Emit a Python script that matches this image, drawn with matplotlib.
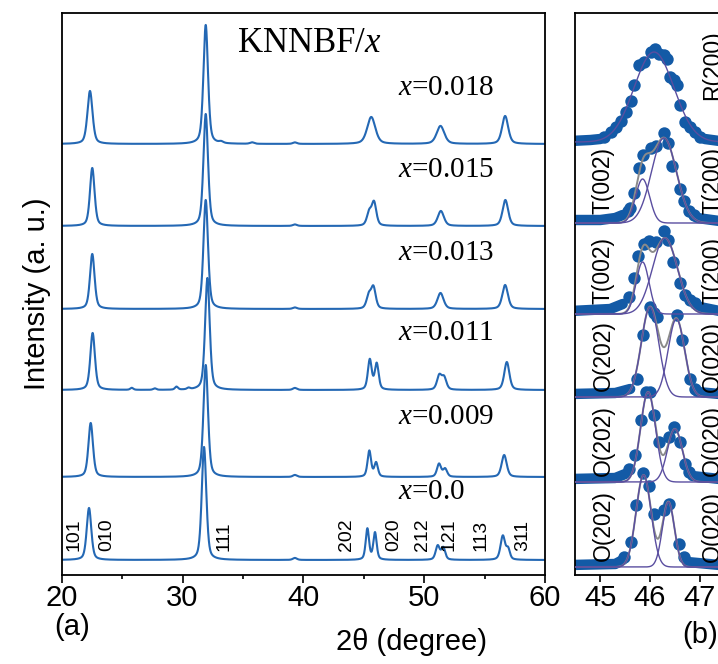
import numpy as np
import matplotlib
matplotlib.use('Agg')
import matplotlib.pyplot as plt
from matplotlib.ticker import MultipleLocator

plt.rcParams['font.family'] = ['Liberation Sans', 'DejaVu Sans']
plt.rcParams['mathtext.fontset'] = 'custom'
plt.rcParams['mathtext.it'] = 'Liberation Serif:italic'
plt.rcParams['mathtext.rm'] = 'Liberation Serif'

# ---- panel (a): XRD patterns, peaks --------------------------------------
# (2theta, height, fwhm); heights in pixel-like units of the stacked plot
labels_a = ['0.018', '0.015', '0.013', '0.011', '0.009', '0.0']
offsets_a = [431, 349, 266, 185, 98, 15]
label_y_a = [487, 405, 322, 242, 158, 83]

peaks_0018 = [(22.34, 53, 0.50), (31.92, 119, 0.45), (33.2, 1.5, 0.4), (35.75, 1.5, 0.4),
              (39.3, 1.5, 0.4), (45.62, 27, 0.80), (51.35, 18, 0.75), (56.70, 28, 0.60)]
peaks_0015 = [(22.53, 58, 0.45), (31.92, 112, 0.45), (39.3, 1.5, 0.4),
              (45.45, 13, 0.45), (45.85, 23, 0.45), (51.38, 15, 0.60), (56.72, 26, 0.55)]
peaks_0013 = [(22.53, 55, 0.45), (31.92, 109, 0.45), (39.3, 1.5, 0.4),
              (45.42, 13, 0.45), (45.80, 21, 0.45), (51.35, 16, 0.60), (56.70, 24, 0.55)]
peaks_0011 = [(22.56, 57, 0.45), (25.8, 2, 0.3), (27.7, 1.5, 0.3), (29.5, 3, 0.3),
              (30.5, 1.5, 0.3), (32.06, 112, 0.45), (39.3, 2, 0.4),
              (45.50, 30, 0.38), (46.07, 26, 0.38), (51.25, 14, 0.45), (51.65, 12, 0.45),
              (56.84, 28, 0.50)]
peaks_0009 = [(22.40, 54, 0.45), (31.92, 112, 0.45), (39.3, 2, 0.4),
              (45.46, 26, 0.35), (46.02, 14, 0.35), (51.23, 13, 0.40), (51.73, 8, 0.40),
              (56.62, 22, 0.50)]
peaks_00 = [(22.26, 52, 0.45), (31.78, 113, 0.45), (39.3, 2, 0.4),
            (45.30, 31, 0.33), (45.93, 27, 0.33), (51.12, 14, 0.40), (51.58, 12, 0.38),
            (56.51, 24, 0.45), (56.95, 10, 0.35)]
peak_sets = [peaks_0018, peaks_0015, peaks_0013, peaks_0011, peaks_0009, peaks_00]

hkl_labels = ['101', '010', '111', '202', '020', '212', '121', '113', '311']
hkl_pos = [21.0, 23.75, 33.44, 43.6, 47.5, 49.87, 52.07, 54.7, 58.15]

# ---- panel (b): 45-47 deg region, fitted components + data ---------------
offsets_b = [433, 352, 261, 178, 93, 8]
label_y_b = [510, 395, 304, 219, 134, 49]
left_labels_b = ['', 'T(002)', 'T(002)', 'O(202)', 'O(202)', 'O(202)']
right_labels_b = ['R(200)', 'T(200)', 'T(200)', 'O(020)', 'O(020)', 'O(020)']

# fitted gaussians (centre, height, sigma)
fit_r1 = [(46.08, 90, 0.40)]
fit_r2 = [(45.85, 44, 0.14), (46.28, 85, 0.25)]
fit_r3 = [(45.85, 52, 0.13), (46.30, 76, 0.25)]
fit_r4 = [(46.00, 90, 0.175), (46.53, 78, 0.165)]
fit_r5 = [(45.96, 90, 0.15), (46.50, 53, 0.15)]
fit_r6 = [(45.87, 92, 0.15), (46.37, 65, 0.12)]
fits = [fit_r1, fit_r2, fit_r3, fit_r4, fit_r5, fit_r6]

# measured points on the peaks
dx_r1 = [45.08, 45.21, 45.31, 45.41, 45.51, 45.61, 45.68, 45.78, 45.88, 46.01, 46.09,
         46.18, 46.28, 46.35, 46.41, 46.48, 46.55, 46.61, 46.71, 46.81, 46.91, 47.01]
dy_r1 = [5, 10, 15, 21, 30, 41, 57, 77, 80, 90, 93, 88, 87, 83, 65, 62, 57, 37, 20, 15, 10, 5]
dx_r2 = [45.55, 45.60, 45.68, 45.78, 45.86, 46.01, 46.11, 46.28, 46.36, 46.44,
         46.61, 46.68, 46.78, 46.88]
dy_r2 = [12, 15, 30, 55, 68, 75, 77, 90, 80, 57, 34, 22, 12, 8]
dx_r3 = [45.58, 45.68, 45.76, 45.87, 45.98, 46.11, 46.28, 46.37, 46.46, 46.60,
         46.71, 46.81, 46.91]
dy_r3 = [17, 36, 58, 70, 73, 72, 83, 74, 52, 31, 19, 14, 11]
dx_r4 = [45.73, 45.85, 46.00, 46.07, 46.13, 46.55, 46.65, 46.80, 46.90]
dy_r4 = [18, 62, 90, 84, 80, 82, 57, 18, 8]
dx_r5 = [45.58, 45.69, 45.81, 45.91, 46.00, 46.08, 46.18, 46.38, 46.48, 46.60, 46.71, 46.78]
dy_r5 = [13, 27, 62, 90, 90, 67, 40, 45, 55, 40, 18, 10]
dx_r6 = [45.48, 45.61, 45.71, 45.85, 45.98, 46.08, 46.28, 46.38, 46.58, 46.68]
dy_r6 = [10, 25, 62, 94, 81, 53, 57, 63, 23, 10]
dots_x = [dx_r1, dx_r2, dx_r3, dx_r4, dx_r5, dx_r6]
dots_y = [dy_r1, dy_r2, dy_r3, dy_r4, dy_r5, dy_r6]

# dense baseline part of the data, drawn as a thick band
band_left_x = [[44.4, 44.8, 45.0], [44.4, 45.0, 45.3, 45.45], [44.4, 45.2, 45.45],
               [44.4, 45.3, 45.6], [44.4, 45.3, 45.5], [44.4, 45.3, 45.45]]
band_left_y = [[1, 2, 3], [3, 3, 5, 8], [3, 5, 10], [3, 4, 8], [3, 4, 8], [2, 3, 7]]
band_right_x = [[47.1, 47.4, 48.3], [46.95, 47.4, 48.3], [47.0, 47.4, 48.3],
                [46.95, 47.4, 48.3], [46.85, 47.4, 48.3], [46.75, 47.4, 48.3]]
band_right_y = [[3, 1, 0], [5, 2, 2], [7, 3, 3], [5, 3, 3], [6, 3, 3], [5, 2, 2]]

LINE = '#2468b4'
DOT = '#135aa6'
PURPLE = '#5a4ea0'
GRAY = '#8a8a8a'


def pseudo_voigt(x, c, h, w, eta=0.45):
    g = np.exp(-4 * np.log(2) * ((x - c) / w) ** 2)
    lo = 1 / (1 + 4 * ((x - c) / w) ** 2)
    return h * (eta * lo + (1 - eta) * g)


def gauss(x, c, h, s):
    return h * np.exp(-(x - c) ** 2 / (2 * s ** 2))


W, H = 718, 664


def rect(l, t, r, b):
    return [l / W, 1 - b / H, (r - l) / W, (b - t) / H]


fig = plt.figure(figsize=(W / 100, H / 100), dpi=100)
ax1 = fig.add_axes(rect(61.7, 13, 545, 575))
ax2 = fig.add_axes(rect(574.5, 13, 760, 575))

# ── panel (a) ────────────────────────────────────────────────────────
tt = np.linspace(20, 60, 4001)
for peaks, off, lab, ly in zip(peak_sets, offsets_a, labels_a, label_y_a):
    y = np.zeros_like(tt)
    for c, h, w in peaks:
        y += pseudo_voigt(tt, c, h, w)
    ax1.plot(tt, y + off, color=LINE, lw=1.5)
    ax1.text(47.85, ly, r'$x$=' + lab, fontsize=21, family='Liberation Serif',
             ha='left', va='center')

ax1.text(34.53, 532, r'KNNBF/$x$', fontsize=25, family='Liberation Serif',
         ha='left', va='center')
for lab, pos in zip(hkl_labels, hkl_pos):
    ax1.text(pos, 24, lab, rotation=90, fontsize=14, ha='center', va='bottom')

ax1.set_xlim(20, 60)
ax1.set_ylim(0, 562)
ax1.set_yticks([])
ax1.xaxis.set_major_locator(MultipleLocator(10))
ax1.xaxis.set_minor_locator(MultipleLocator(5))
ax1.tick_params(axis='x', which='major', direction='out', length=6, width=1.2,
                labelsize=21, pad=0.5)
ax1.tick_params(axis='x', which='minor', direction='out', length=3, width=1.2)
ax1.set_ylabel('Intensity (a. u.)', fontsize=21, labelpad=8)

# ── panel (b) ────────────────────────────────────────────────────────
xb = np.linspace(44.4, 48.3, 900)
for i, off in enumerate(offsets_b):
    lx, ly_ = band_left_x[i], band_left_y[i]
    rx, ry = band_right_x[i], band_right_y[i]
    ax2.plot(lx, np.array(ly_) + off, color=DOT, lw=7.5, solid_capstyle='round')
    ax2.plot(rx, np.array(ry) + off, color=DOT, lw=7.5, solid_capstyle='round')
    ax2.scatter(dots_x[i], np.array(dots_y[i]) + off, s=80, color=DOT, zorder=2,
                linewidths=0)
    total = np.zeros_like(xb)
    comps = []
    for c, h, s in fits[i]:
        g = gauss(xb, c, h, s)
        comps.append(g)
        total += g
    if len(comps) > 1:
        ax2.plot(xb, total + off, color=GRAY, lw=1.4, zorder=3)
    for g in comps:
        ax2.plot(xb, g + off, color=PURPLE, lw=1.0, zorder=4)
    if left_labels_b[i]:
        ax2.text(45.06, label_y_b[i], left_labels_b[i], rotation=90, fontsize=16.5,
                 ha='center', va='center', zorder=5)
    ax2.text(47.03, label_y_b[i], right_labels_b[i], rotation=90, fontsize=16.5,
             ha='left', va='center', zorder=5)

ax2.set_xlim(44.48, 44.48 + (760 - 574.5) / 49.7)
ax2.set_ylim(0, 562)
ax2.set_yticks([])
ax2.set_xticks([45, 46, 47])
ax2.tick_params(axis='x', direction='out', length=5, width=1.2, labelsize=21, pad=1.5)

for ax in (ax1, ax2):
    for sp in ax.spines.values():
        sp.set_linewidth(1.3)

fig.text(412 / W, 1 - 642 / H, '2θ (degree)', fontsize=21, ha='center', va='center')
fig.text(72 / W, 1 - 627 / H, '(a)', fontsize=21, ha='center', va='center')
fig.text(700 / W, 1 - 635 / H, '(b)', fontsize=21, ha='center', va='center')

fig.savefig('out.png', dpi=100)
